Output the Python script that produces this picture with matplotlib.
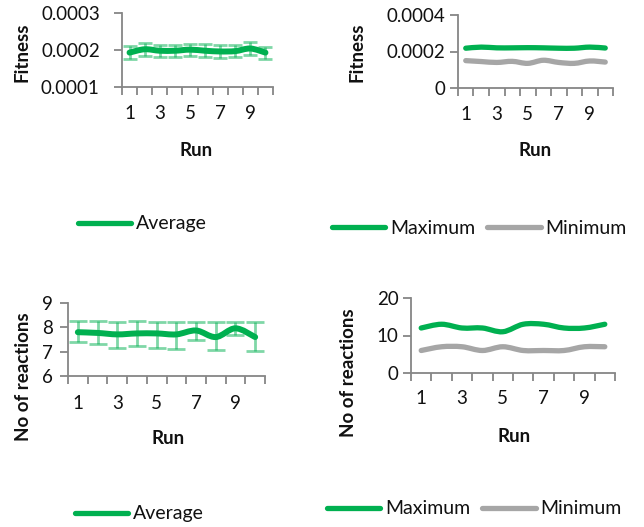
import matplotlib
matplotlib.use("Agg")
import matplotlib.pyplot as plt
from matplotlib.path import Path
from matplotlib.patches import PathPatch
from matplotlib.lines import Line2D
import numpy as np

plt.rcParams['font.family'] = ['Lato', 'DejaVu Sans']

runs = list(range(1, 11))
xtick_labels = ['1', '3', '5', '7', '9']

# Fitness average with error
fit_avg = [0.000193, 0.000202, 0.000198, 0.000198, 0.000201, 0.000198, 0.000196, 0.000197, 0.000204, 0.000193]
fit_err = [0.000017, 0.000018, 0.000016, 0.000016, 0.000016, 0.000017, 0.000017, 0.000017, 0.000018, 0.000016]

# Fitness max / min
fit_max = [0.000218, 0.000224, 0.000220, 0.000220, 0.000221, 0.000220, 0.000218, 0.000218, 0.000224, 0.000219]
fit_min = [0.000150, 0.000145, 0.000140, 0.000146, 0.000135, 0.000152, 0.000140, 0.000135, 0.000148, 0.000142]

# Number of reactions average with bounds
rx_avg = [7.80, 7.77, 7.71, 7.75, 7.75, 7.71, 7.87, 7.60, 7.96, 7.60]
rx_low = [7.40, 7.33, 7.16, 7.23, 7.17, 7.13, 7.47, 7.07, 7.67, 7.04]
rx_high = [8.24, 8.27, 8.23, 8.27, 8.23, 8.23, 8.23, 8.23, 8.23, 8.20]

# Number of reactions max / min
rx_max = [12, 13, 12, 12, 11, 13, 13, 12, 12, 13]
rx_min = [6, 7, 7, 6, 7, 6, 6, 6, 7, 7]

GREEN = '#00B050'
GRAY = '#A6A6A6'
SPINE = '#868686'
FS_TICK = 13.5
FS_LEG = 14
FS_LAB = 13.5

W, H = 644, 527
fig = plt.figure(figsize=(W / 100, H / 100), dpi=100)


def smooth(ax, xs, ys, color, lw, z=3):
    xs = np.asarray(xs, float)
    ys = np.asarray(ys, float)
    n = len(xs)
    verts = [(xs[0], ys[0])]
    codes = [Path.MOVETO]
    for i in range(n - 1):
        p0 = np.array([xs[max(i - 1, 0)], ys[max(i - 1, 0)]])
        p1 = np.array([xs[i], ys[i]])
        p2 = np.array([xs[i + 1], ys[i + 1]])
        p3 = np.array([xs[min(i + 2, n - 1)], ys[min(i + 2, n - 1)]])
        c1 = p1 + (p2 - p0) / 6.0
        c2 = p2 - (p3 - p1) / 6.0
        verts += [tuple(c1), tuple(c2), tuple(p2)]
        codes += [Path.CURVE4] * 3
    patch = PathPatch(Path(verts, codes), fill=False, edgecolor=color, lw=lw,
                      capstyle='round', joinstyle='round', zorder=z)
    ax.add_patch(patch)


def make_ax(px_left, px_top, px_right, px_bottom):
    return fig.add_axes([px_left / W, 1 - px_bottom / H,
                         (px_right - px_left) / W, (px_bottom - px_top) / H])


def style(ax, ylim, yticks, yfmt, ypad, xpad):
    ax.set_xlim(0.5, 10.5)
    ax.set_ylim(*ylim)
    ax.set_yticks(yticks)
    ax.set_yticklabels([yfmt(v) for v in yticks])
    ax.set_xticks([1, 3, 5, 7, 9])
    ax.set_xticklabels(xtick_labels)
    ax.set_xticks(np.arange(0.5, 11, 1.0), minor=True)
    for s in ['top', 'right']:
        ax.spines[s].set_visible(False)
    for s in ['left', 'bottom']:
        ax.spines[s].set_color(SPINE)
        ax.spines[s].set_linewidth(1.3)
    ax.tick_params(axis='x', which='major', length=0, pad=xpad, labelsize=FS_TICK, colors='#111111')
    ax.tick_params(axis='x', which='minor', length=6, width=1.3, color=SPINE, direction='out')
    ax.tick_params(axis='y', which='major', length=6, width=1.3, color=SPINE, direction='out',
                   pad=ypad, labelsize=FS_TICK, labelcolor='#111111')
    ax.patch.set_alpha(0)


def legend(handles, labels, px_x, px_y):
    fig.legend(handles, labels, loc='center left',
               bbox_to_anchor=(px_x / W, 1 - px_y / H), frameon=False, ncol=len(handles),
               borderpad=0, borderaxespad=0, handlelength=2.75, handletextpad=0.25,
               columnspacing=0.6, fontsize=FS_LEG, labelcolor='#111111')


def label(text, px_x, px_y, rot=0):
    fig.text(px_x / W, 1 - px_y / H, text, ha='center', va='center', rotation=rot,
             fontsize=FS_LAB, fontweight='bold', color='#111111')


# Panel 1
ax1 = make_ax(122, 13, 273, 87)
ax1.errorbar(runs, fit_avg, yerr=fit_err, fmt='none', ecolor=GREEN, alpha=0.5,
             elinewidth=2.0, capsize=4.8, capthick=2.0, zorder=2)
smooth(ax1, runs, fit_avg, GREEN, 4.3)
style(ax1, (0.0001, 0.0003), [0.0001, 0.0002, 0.0003], lambda v: f"{v:.4f}", 10, 13)
label('Fitness', 22, 52, 90)
label('Run', 196, 150)
legend([Line2D([], [], color=GREEN, lw=3.8, solid_capstyle='round')], ['Average'], 78, 224)

# Panel 2
ax2 = make_ax(458, 15, 613, 88)
smooth(ax2, runs, fit_max, GREEN, 3.8)
smooth(ax2, runs, fit_min, GRAY, 3.8)
style(ax2, (0, 0.0004), [0, 0.0002, 0.0004], lambda v: '0' if v == 0 else f"{v:.4f}", 3, 13)
label('Fitness', 357, 52, 90)
label('Run', 535, 150)
legend([Line2D([], [], color=GREEN, lw=3.8, solid_capstyle='round'),
        Line2D([], [], color=GRAY, lw=3.8, solid_capstyle='round')],
       ['Maximum', 'Minimum'], 332, 228)

# Panel 3
ax3 = make_ax(68, 303, 265, 376)
lo = np.array(rx_avg) - np.array(rx_low)
hi = np.array(rx_high) - np.array(rx_avg)
ax3.errorbar(runs, rx_avg, yerr=[lo, hi], fmt='none', ecolor=GREEN, alpha=0.5,
             elinewidth=2.0, capsize=6.5, capthick=2.0, zorder=2)
smooth(ax3, runs, rx_avg, GREEN, 4.3)
style(ax3, (6, 9), [6, 7, 8, 9], lambda v: f"{v:g}", 5, 14)
label('No of reactions', 24, 377, 90)
label('Run', 168, 439)
legend([Line2D([], [], color=GREEN, lw=3.8, solid_capstyle='round')], ['Average'], 75, 514)

# Panel 4
ax4 = make_ax(411, 298, 615, 373)
smooth(ax4, runs, rx_max, GREEN, 3.8)
smooth(ax4, runs, rx_min, GRAY, 3.8)
style(ax4, (0, 20), [0, 10, 20], lambda v: f"{v:g}", 3, 12)
label('No of reactions', 349, 373, 90)
label('Run', 514, 436)
legend([Line2D([], [], color=GREEN, lw=3.8, solid_capstyle='round'),
        Line2D([], [], color=GRAY, lw=3.8, solid_capstyle='round')],
       ['Maximum', 'Minimum'], 327, 509)

fig.savefig('out.png', dpi=100)
